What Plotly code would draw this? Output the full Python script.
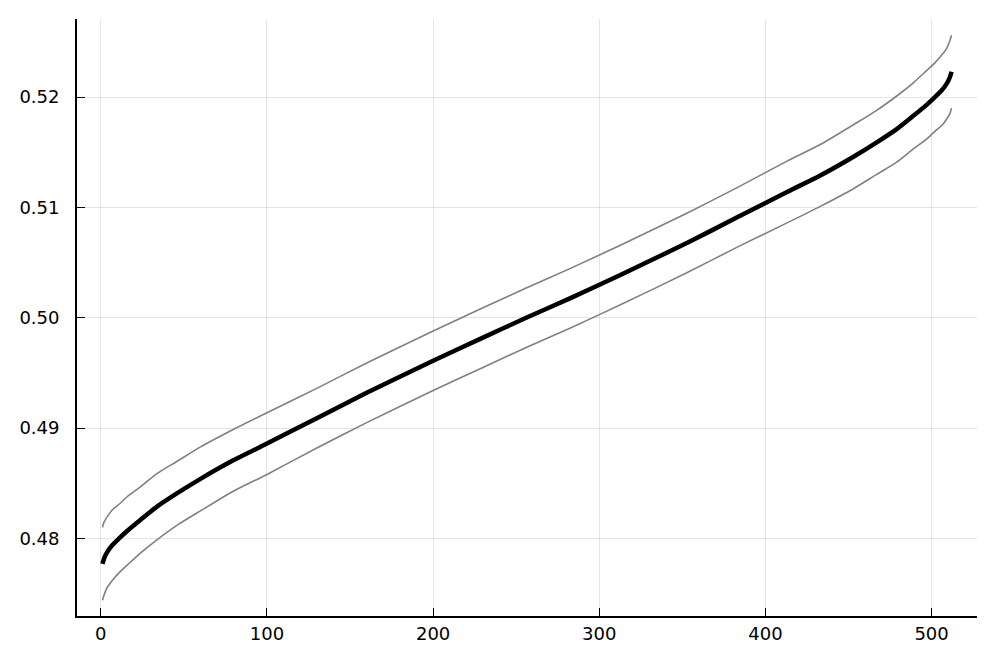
import plotly.graph_objects as go

# index positions along the sorted series
idx = [1, 2, 4, 7, 11, 16, 24, 34, 46, 60, 80, 100, 130, 160, 200, 230, 256,
       283, 313, 353, 383, 413, 433, 453, 467, 479, 489, 497, 502, 506, 509, 511, 512]

# central estimate (thick black line)
center = [0.4777, 0.4782, 0.4788, 0.4794, 0.4800, 0.4807, 0.4817, 0.4829, 0.4841,
          0.4854, 0.4871, 0.4886, 0.4909, 0.4932, 0.4961, 0.4982, 0.5000,
          0.5018, 0.5039, 0.5068, 0.5091, 0.5114, 0.5129, 0.5146, 0.5159,
          0.5171, 0.5183, 0.5193, 0.5200, 0.5206, 0.5212, 0.5218, 0.5223]

# upper band (grey)
upper = [0.4810, 0.4815, 0.4820, 0.4826, 0.4831, 0.4838, 0.4847, 0.4859, 0.4870,
         0.4883, 0.4899, 0.4914, 0.4936, 0.4959, 0.4988, 0.5009, 0.5027,
         0.5045, 0.5066, 0.5095, 0.5118, 0.5142, 0.5157, 0.5175, 0.5188,
         0.5201, 0.5213, 0.5224, 0.5231, 0.5238, 0.5244, 0.5251, 0.5256]

# lower band (grey)
lower = [0.4744, 0.4749, 0.4756, 0.4762, 0.4769, 0.4776, 0.4787, 0.4799, 0.4812,
         0.4825, 0.4843, 0.4858, 0.4882, 0.4905, 0.4934, 0.4955, 0.4973,
         0.4991, 0.5012, 0.5041, 0.5064, 0.5086, 0.5101, 0.5117, 0.5130,
         0.5141, 0.5153, 0.5162, 0.5169, 0.5174, 0.5180, 0.5185, 0.5190]

x_ticks = [0, 100, 200, 300, 400, 500]
y_ticks = [0.48, 0.49, 0.50, 0.51, 0.52]

fig = go.Figure()

for band in (upper, lower):
    fig.add_trace(go.Scatter(x=idx, y=band, mode='lines', line_shape='spline',
                             line=dict(color='#808080', width=1.6, smoothing=0.7),
                             showlegend=False, hoverinfo='skip'))

fig.add_trace(go.Scatter(x=idx, y=center, mode='lines', line_shape='spline',
                         line=dict(color='black', width=4.5, smoothing=0.7),
                         showlegend=False))

# page body has an 8px margin, so the figure is sized to fit inside the window
fig.update_layout(
    width=989, height=656,
    margin=dict(l=69, r=20, t=11, b=48),
    plot_bgcolor='white', paper_bgcolor='white',
    font=dict(family='DejaVu Sans', size=18, color='black'),
)

fig.update_xaxes(range=[-14.33, 527.33], tickvals=x_ticks, ticks='inside', ticklen=8,
                 tickcolor='black', showline=True, linecolor='black', linewidth=1.8,
                 showgrid=True, gridcolor='rgba(0,0,0,0.1)', gridwidth=1,
                 zeroline=False, ticklabelstandoff=0)
fig.update_yaxes(range=[0.47297, 0.52708], tickvals=y_ticks, tickformat='.2f',
                 ticks='inside', ticklen=8, tickcolor='black', showline=True,
                 linecolor='black', linewidth=1.8, showgrid=True,
                 gridcolor='rgba(0,0,0,0.1)', gridwidth=1, zeroline=False,
                 ticklabelstandoff=12)

fig.write_html("out.html")
